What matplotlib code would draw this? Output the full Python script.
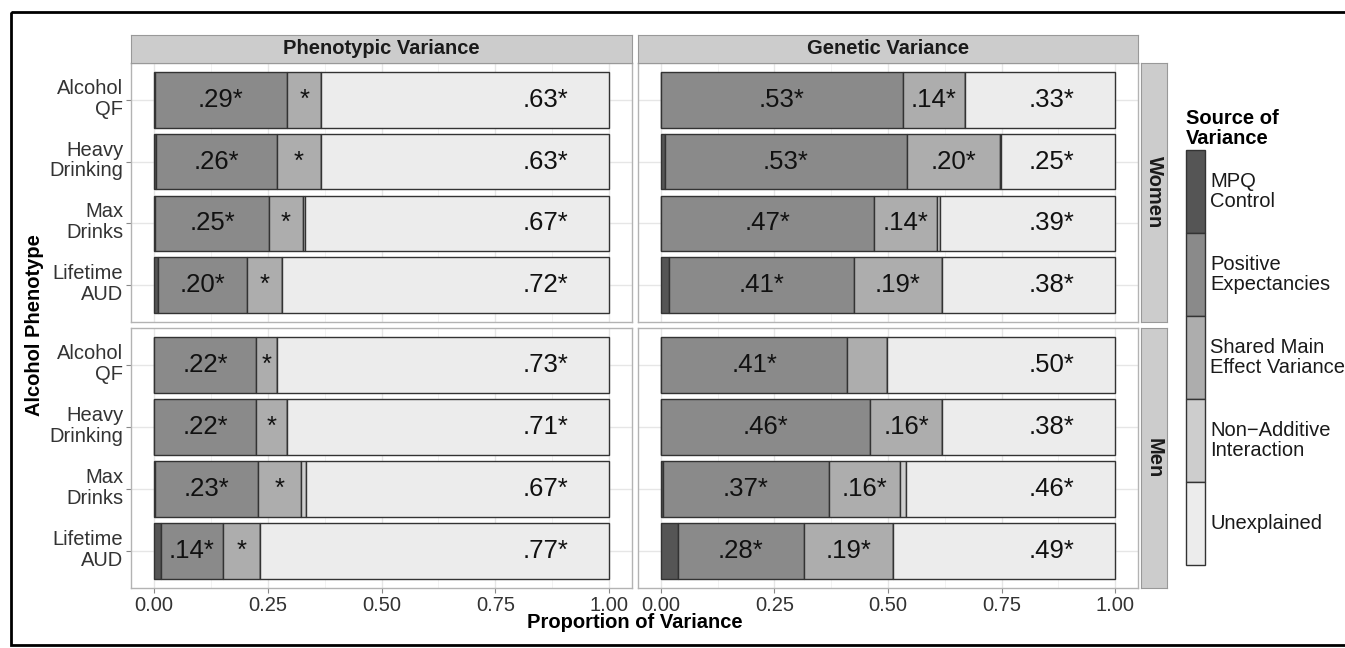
import matplotlib
matplotlib.use('Agg')
import matplotlib.pyplot as plt
import matplotlib.transforms as mtransforms
from matplotlib.patches import Rectangle
import numpy as np

plt.rcParams['font.family'] = ['Liberation Sans', 'DejaVu Sans']

W, H = 1345, 648

phenotypes = ["Alcohol\nQF", "Heavy\nDrinking", "Max\nDrinks", "Lifetime\nAUD"]
sources = ["MPQ\nControl", "Positive\nExpectancies", "Shared Main\nEffect Variance",
           "Non\u2212Additive\nInteraction", "Unexplained"]
colors = ["#555555", "#8a8a8a", "#adadad", "#cdcdcd", "#ececec"]
columns = ["Phenotypic Variance", "Genetic Variance"]
sexes = ["Women", "Men"]

# rows = phenotypes, columns = MPQ, Positive Exp., Shared, Non-Additive, Unexplained
phen_women = [[0.002, 0.291, 0.075, 0.000, 0.632],
              [0.005, 0.265, 0.097, 0.000, 0.633],
              [0.003, 0.250, 0.074, 0.006, 0.667],
              [0.010, 0.194, 0.078, 0.000, 0.718]]
phen_men = [[0.001, 0.224, 0.045, 0.000, 0.730],
            [0.001, 0.224, 0.068, 0.000, 0.707],
            [0.002, 0.227, 0.094, 0.012, 0.665],
            [0.016, 0.135, 0.082, 0.000, 0.767]]
gen_women = [[0.001, 0.531, 0.138, 0.000, 0.330],
             [0.009, 0.532, 0.205, 0.002, 0.252],
             [0.001, 0.468, 0.139, 0.006, 0.386],
             [0.019, 0.406, 0.193, 0.000, 0.382]]
gen_men = [[0.001, 0.409, 0.088, 0.000, 0.502],
           [0.001, 0.460, 0.158, 0.000, 0.381],
           [0.004, 0.367, 0.156, 0.013, 0.460],
           [0.037, 0.279, 0.195, 0.000, 0.489]]

# labels: positive expectancies, shared, unexplained
phen_women_lab = [[".29*", "*", ".63*"], [".26*", "*", ".63*"],
                  [".25*", "*", ".67*"], [".20*", "*", ".72*"]]
phen_men_lab = [[".22*", "*", ".73*"], [".22*", "*", ".71*"],
                [".23*", "*", ".67*"], [".14*", "*", ".77*"]]
gen_women_lab = [[".53*", ".14*", ".33*"], [".53*", ".20*", ".25*"],
                 [".47*", ".14*", ".39*"], [".41*", ".19*", ".38*"]]
gen_men_lab = [[".41*", "", ".50*"], [".46*", ".16*", ".38*"],
               [".37*", ".16*", ".46*"], [".28*", ".19*", ".49*"]]

fig = plt.figure(figsize=(W / 100, H / 100), dpi=100)


def px_axes(x0, y0, x1, y1):
    return fig.add_axes([x0 / W, 1 - y1 / H, (x1 - x0) / W, (y1 - y0) / H])


col_px = [(131, 632), (638, 1138)]
row_px = [(63, 322), (328, 588)]
data = {(0, 0): (phen_women, phen_women_lab), (0, 1): (gen_women, gen_women_lab),
        (1, 0): (phen_men, phen_men_lab), (1, 1): (gen_men, gen_men_lab)}

ypos = np.arange(1, len(phenotypes) + 1)
tick_fs = 14.5
lift = mtransforms.ScaledTranslation(0, 4 / 100, fig.dpi_scale_trans)
for (r, c), (vals, labs) in data.items():
    ax = px_axes(col_px[c][0], row_px[r][0], col_px[c][1], row_px[r][1])
    vals = np.array(vals)
    left = np.zeros(len(phenotypes))
    for k in range(len(sources)):
        ax.barh(ypos, vals[:, k], left=left, height=0.9, color=colors[k],
                edgecolor="#333333", linewidth=1.0, zorder=2)
        left = left + vals[:, k]
    cum = np.cumsum(vals, axis=1)
    for i in range(len(phenotypes)):
        pe_c = (cum[i, 0] + cum[i, 1]) / 2
        sh_c = (cum[i, 1] + cum[i, 2]) / 2
        ax.text(pe_c, ypos[i], labs[i][0], ha="center", va="center", fontsize=18.5, color="#111111", zorder=3)
        ax.text(sh_c, ypos[i], labs[i][1], ha="center", va="center", fontsize=18.5, color="#111111", zorder=3)
        ax.text(0.86, ypos[i], labs[i][2], ha="center", va="center", fontsize=18.5, color="#111111", zorder=3)
    ax.set_xlim(-0.05, 1.05)
    ax.set_ylim(4.6, 0.4)
    ax.set_xticks([0, 0.25, 0.5, 0.75, 1.0])
    ax.set_xticks([0.125, 0.375, 0.625, 0.875], minor=True)
    ax.set_yticks(ypos)
    ax.grid(which="major", color="#e6e6e6", linewidth=1.0, zorder=0)
    ax.grid(which="minor", axis="x", color="#f0f0f0", linewidth=0.6, zorder=0)
    ax.set_axisbelow(True)
    for s in ax.spines.values():
        s.set_color("#b3b3b3")
        s.set_linewidth(1.0)
    ax.tick_params(which="major", length=3.5, color="#888888", labelsize=tick_fs, labelcolor="#333333", pad=2)
    ax.tick_params(which="minor", length=0)
    if c == 0:
        ax.set_yticklabels(phenotypes, linespacing=1.12)
        for lab in ax.get_yticklabels():
            lab.set_transform(lab.get_transform() + lift)
    else:
        ax.tick_params(axis="y", length=0)
        ax.set_yticklabels([])
    if r == 1:
        ax.set_xticklabels(["0.00", "0.25", "0.50", "0.75", "1.00"])
    else:
        ax.tick_params(axis="x", length=0)
        ax.set_xticklabels([])

# column strips
for c, name in enumerate(columns):
    sx = px_axes(col_px[c][0], 35, col_px[c][1], 63)
    sx.set_facecolor("#cccccc")
    sx.set_xticks([])
    sx.set_yticks([])
    for s in sx.spines.values():
        s.set_color("#999999")
    sx.text(0.5, 0.5, name, transform=sx.transAxes, ha="center", va="center",
            fontsize=14.5, fontweight="bold", color="#1a1a1a")

# row strips
for r, name in enumerate(sexes):
    sx = px_axes(1141, row_px[r][0], 1167, row_px[r][1])
    sx.set_facecolor("#cccccc")
    sx.set_xticks([])
    sx.set_yticks([])
    for s in sx.spines.values():
        s.set_color("#999999")
    sx.text(0.5, 0.5, name, transform=sx.transAxes, ha="center", va="center",
            rotation=-90, fontsize=14.5, fontweight="bold", color="#1a1a1a")

# axis titles
fig.text(635 / W, 1 - 623 / H, "Proportion of Variance", ha="center", va="center",
         fontsize=14.5, fontweight="bold")
fig.text(35 / W, 1 - 325 / H, "Alcohol Phenotype", ha="center", va="center",
         rotation=90, fontsize=14.5, fontweight="bold")

# legend
lx0, lx1 = 1186, 1205
ktop, kh = 150, 83
lg = px_axes(0, 0, W, H)
lg.set_xlim(0, W)
lg.set_ylim(H, 0)
lg.axis("off")
lg.patch.set_alpha(0)
lg.text(lx0, 144, "Source of\nVariance", ha="left", va="baseline", fontsize=14.5,
        fontweight="bold", linespacing=1.05)
for k, name in enumerate(sources):
    y0 = ktop + k * kh
    lg.add_patch(Rectangle((lx0, y0), lx1 - lx0, kh, facecolor=colors[k],
                           edgecolor="#333333", linewidth=1.0))
    lg.text(1210, y0 + kh / 2, name, ha="left", va="center", fontsize=14.5,
            color="#1a1a1a", linespacing=1.08)

# outer frame
lg.add_patch(Rectangle((11, 12), W + 20, 633, facecolor="none", edgecolor="black",
                       linewidth=2.0, clip_on=False))

fig.savefig("out.png", dpi=100)
